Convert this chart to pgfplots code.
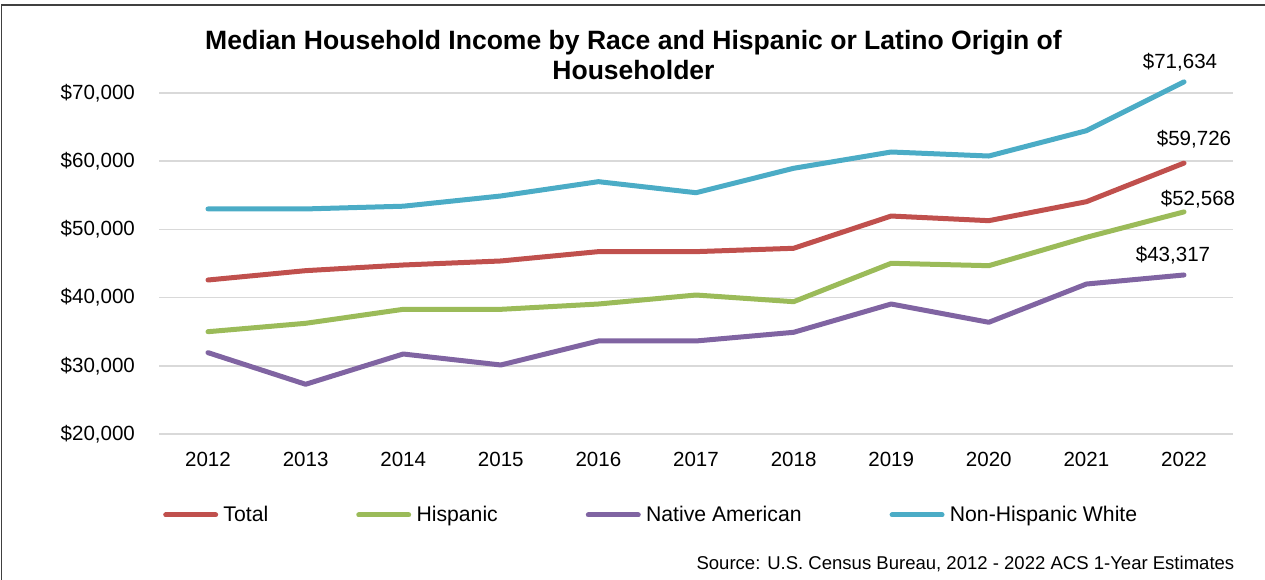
\documentclass[border=0pt]{standalone}
\usepackage{pgfplots}
\pgfplotsset{compat=1.18}
\usepackage{fontspec}
\setmainfont{Liberation Sans}
\definecolor{cTotal}{HTML}{C0504D}
\definecolor{cHisp}{HTML}{9BBB59}
\definecolor{cNative}{HTML}{8064A2}
\definecolor{cWhite}{HTML}{4BACC6}
\definecolor{gridgray}{HTML}{D9D9D9}
\begin{document}
\begin{tikzpicture}
\useasboundingbox (0,0) rectangle (948.75pt,434.25pt);
\draw[line width=1pt, color=black!75] (0.9pt,-2pt) -- (0.9pt,430.5pt) -- (950pt,430.5pt);
\node[anchor=base, font=\fontsize{19.9}{23}\selectfont\bfseries] at (475.1pt,396.75pt) {Median Household Income by Race and Hispanic or Latino Origin of};
\node[anchor=base, font=\fontsize{19.9}{23}\selectfont\bfseries] at (475.1pt,374.25pt) {Householder};
\node[anchor=base east, font=\fontsize{13.9}{16}\selectfont] at (929.25pt,7.5pt) {Source: U.S. Census Bureau, 2012 - 2022 ACS 1-Year Estimates};
\begin{axis}[
  at={(119.4pt,108.75pt)}, anchor=south west,
  width=805.2pt, height=255.75pt, scale only axis,
  xmin=2011.5, xmax=2022.5, ymin=20000, ymax=70000,
  clip=false,
  axis line style={draw=none},
  major tick length=0pt,
  xtick={2012,2013,2014,2015,2016,2017,2018,2019,2020,2021,2022},
  xticklabels={2012,2013,2014,2015,2016,2017,2018,2019,2020,2021,2022},
  ytick={20000,30000,40000,50000,60000,70000},
  yticklabels={{\$20,000},{\$30,000},{\$40,000},{\$50,000},{\$60,000},{\$70,000}},
  scaled ticks=false,
  ymajorgrids, grid style={color=gridgray, line width=1.2pt},
  tick label style={font=\fontsize{15.4}{18}\selectfont},
  xticklabel style={anchor=north, inner sep=0pt, yshift=-13.5pt},
  yticklabel style={anchor=east, inner sep=0pt, xshift=-18pt},
  every axis plot/.append style={line width=3.75pt, line cap=round, line join=round, mark=none},
  legend columns=4,
  legend image code/.code={\draw[#1, line cap=round] (1.9pt,0pt) -- (39.35pt,0pt);},
  legend style={at={(0.0035,-0.2375)}, anchor=west, draw=none, fill=none, inner sep=0pt,
    font=\fontsize{15.9}{18}\selectfont,
    cells={anchor=west}, nodes={inner sep=0pt},
    /tikz/every odd column/.append style={column sep=4pt},
    /tikz/every even column/.append style={column sep=66pt}},
]
\addplot[color=cTotal] coordinates {(2012,42580) (2013,43950) (2014,44780) (2015,45370) (2016,46740) (2017,46740) (2018,47230) (2019,51960) (2020,51280) (2021,54060) (2022,59726)};
\addlegendentry{Total}
\addplot[color=cHisp] coordinates {(2012,35000) (2013,36230) (2014,38280) (2015,38280) (2016,39060) (2017,40380) (2018,39400) (2019,45030) (2020,44680) (2021,48840) (2022,52568)};
\addlegendentry{Hispanic}
\addplot[color=cNative] coordinates {(2012,31930) (2013,27290) (2014,31730) (2015,30120) (2016,33640) (2017,33640) (2018,34910) (2019,39060) (2020,36380) (2021,41990) (2022,43317)};
\addlegendentry{Native American}
\addplot[color=cWhite] coordinates {(2012,53000) (2013,53000) (2014,53400) (2015,54900) (2016,57000) (2017,55380) (2018,58960) (2019,61350) (2020,60760) (2021,64470) (2022,71634)};
\addlegendentry{Non-Hispanic White}
\node[inner sep=0pt, font=\fontsize{15.4}{18}\selectfont, xshift=-3pt, yshift=15pt] at (axis cs:2022,71634) {\$71,634};
\node[inner sep=0pt, font=\fontsize{15.4}{18}\selectfont, xshift=7.5pt, yshift=18pt] at (axis cs:2022,59726) {\$59,726};
\node[inner sep=0pt, font=\fontsize{15.4}{18}\selectfont, xshift=10.5pt, yshift=9.5pt] at (axis cs:2022,52568) {\$52,568};
\node[inner sep=0pt, font=\fontsize{15.4}{18}\selectfont, xshift=-8.25pt, yshift=15pt] at (axis cs:2022,43317) {\$43,317};
\end{axis}
\end{tikzpicture}
\end{document}
